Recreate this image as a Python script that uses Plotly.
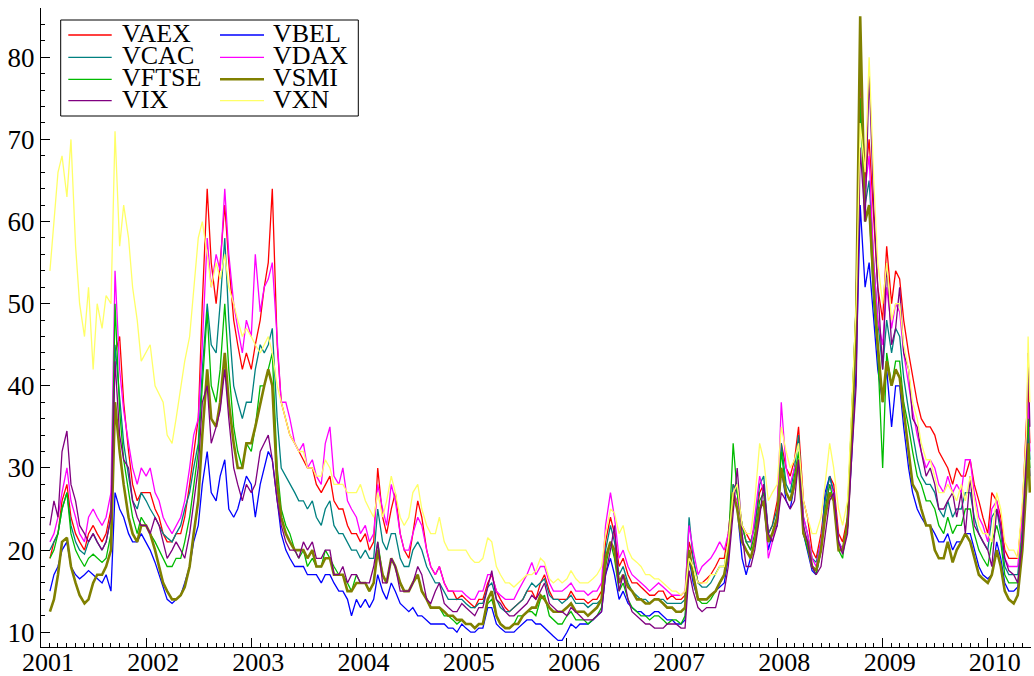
import pandas as pd
import plotly.graph_objects as go

# ---------------- data (semi-monthly readings, Feb 2001 - May 2010) ----------------
_months = pd.date_range("2001-02-01", "2010-05-01", freq="MS")
DATES = []
for m in _months:
    DATES.append(m.strftime("%Y-%m-%d"))
    DATES.append((m + pd.Timedelta(days=14)).strftime("%Y-%m-%d"))
DATES += ["2010-05-21", "2010-05-27"]

VAEX = [
    19, 21, 22, 26, 28, 24, 22, 21, 20, 22, 23, 22, 21, 22, 25, 44, 46, 38, 32, 28, 26, 27,
    27, 27, 25, 24, 22, 21, 21, 22, 22, 24, 28, 32, 36, 50, 64, 55, 50, 55, 62, 55, 48, 45, 42, 44,
    42, 45, 48, 52, 55, 64, 45, 38, 36, 34, 33, 32, 31, 30, 30, 28, 27, 28, 29, 26, 25, 25, 23, 22,
    22, 21, 22, 20, 21, 30, 24, 22, 25, 27, 22, 20, 19, 22, 26, 24, 20, 18, 17, 18, 16, 15, 15, 14,
    14.5, 14, 13.5, 13, 14, 14, 16, 17, 15, 14, 13, 12.5, 13, 13.5, 14, 15, 15, 14, 16, 17, 15, 14, 14, 14,
    14, 15, 14, 14, 14, 13.5, 14, 14, 15, 21, 24, 22, 18, 19, 17, 16, 16, 15.5, 15, 14.5, 14.5, 15, 15, 14,
    14.5, 14, 14, 14.5, 21, 19, 16, 16, 16.5, 17, 18, 19, 19, 22, 28, 27, 23, 22, 21, 23, 27, 28, 22, 23,
    26, 33, 30, 29, 31, 35, 26, 24, 20, 19, 22, 26, 29, 28, 22, 21, 24, 35, 50, 78, 65, 70, 60, 52,
    48, 57, 50, 54, 53, 48, 44, 41, 38, 36, 35, 35, 34, 32, 31, 30, 28, 30, 29, 29, 31, 28, 26, 24,
    22, 27, 26, 24, 20, 19, 19, 19, 25, 35, 40, 33,
]
VBEL = [
    15, 17, 18, 20, 21, 18, 17, 16.5, 17, 17.5, 17, 16.5, 16, 17, 15, 27, 25, 24, 22, 21, 21, 22,
    21, 20, 18.5, 17, 15.5, 14, 13.5, 14, 14.5, 16, 18, 21, 23, 28, 32, 27, 26, 29, 31, 25, 24, 25, 27, 29,
    28, 24, 28, 30, 32, 31, 26, 22, 20, 19, 18, 18, 18, 17, 17, 17, 16, 17, 17, 16, 15, 15, 14, 12,
    14, 13, 14, 13, 14, 17, 15, 14, 16, 15, 13.5, 13, 12.5, 13, 12, 12, 11.5, 11, 11, 11, 11, 10.5, 10.5, 10,
    11, 10.5, 10, 10, 10.5, 10.5, 13, 13, 11, 10.5, 10, 10, 10, 10.5, 11, 11.5, 11.5, 11, 11, 10.5, 10, 9.5, 9, 9,
    10, 11, 10.5, 11, 11, 11, 11.5, 12, 12.5, 17, 19, 17, 14, 15, 13.5, 13, 12.5, 12.5, 12, 12, 12.5, 12.5, 12, 11.5,
    11.5, 11, 11, 11.5, 19, 16, 14, 14, 14, 14.5, 15, 15.5, 16, 19, 27, 25, 19, 17, 19, 21, 25, 26, 20, 22,
    23, 30, 26, 25, 28, 31, 22, 20, 17.5, 17, 20, 27, 29, 27, 21, 20, 23, 31, 42, 62, 52, 55, 48, 42,
    38, 42, 35, 40, 40, 35, 30, 27, 25, 24, 23, 23, 22, 21, 21, 22, 20, 21, 21, 22, 22, 20, 18, 17,
    16.5, 17, 21, 19, 16, 15, 15, 15.5, 21, 30, 34, 29,
]
VCAC = [
    20, 21, 22, 25, 27, 23, 21, 20, 19.5, 21, 22, 21, 20, 21, 24, 45, 38, 33, 29, 26, 25, 27,
    26, 25, 24, 23, 22, 21.5, 21, 22, 23, 25, 27, 30, 33, 42, 50, 45, 44, 50, 58, 48, 40, 38, 36, 38,
    38, 42, 45, 44, 45, 47, 36, 30, 29, 28, 27, 26, 26, 25, 26, 24, 23, 25, 26, 23, 22, 22, 21, 20,
    20, 19, 20, 19, 19, 25, 21, 20, 22, 22, 19, 18, 18, 20, 21, 20, 18, 17, 16, 16, 15, 14, 14, 14,
    14, 13.5, 13, 13, 13.5, 13.5, 15.5, 16, 14, 13, 12.5, 12.5, 13, 13.5, 14, 15, 16, 15.5, 16, 16.5, 14.5, 14, 14, 13.5,
    14, 14.5, 13.5, 13.5, 13.5, 13, 13.5, 13.5, 14, 20, 23, 21, 17, 18, 16, 15, 14.5, 14, 14, 13.5, 14, 14, 14, 13.5,
    13.5, 13.5, 13.5, 14, 24, 19, 16, 15.5, 15.5, 16, 17, 18, 18, 21, 28, 27, 23, 21, 21, 23, 28, 29, 22, 23,
    25, 33, 28, 27, 30, 34, 24, 22, 19, 18.5, 21, 26, 29, 27, 21, 20, 23, 33, 47, 75, 62, 65, 55, 48,
    42, 48, 44, 47, 46, 41, 37, 34, 31, 29, 28, 28, 27, 25, 24, 26, 24, 25, 25, 27, 27, 24, 22, 21,
    20, 24, 25, 22, 18, 17, 17, 17, 23, 32, 37, 31,
]
VDAX = [
    21, 22, 24, 27, 30, 26, 24, 22, 21, 24, 25, 24, 23, 24, 27, 54, 42, 37, 33, 30, 28, 30,
    29, 30, 27, 26, 24, 23, 22, 23, 24, 26, 30, 34, 36, 45, 58, 52, 56, 54, 64, 56, 50, 47, 44, 48,
    46, 56, 49, 52, 53, 55, 45, 38, 38, 36, 33, 32, 33, 30, 31, 29, 28, 33, 35, 29, 28, 30, 26, 25,
    24, 22, 23, 21, 22, 28, 25, 23, 28, 26, 22, 20, 20, 22, 24, 23, 20, 18, 17, 18, 16, 15, 15, 15,
    15, 14.5, 14, 14, 15, 15, 17, 17, 15, 14.5, 14, 14, 14, 15, 16, 17, 18.5, 17, 18, 18, 16, 15, 15, 15,
    15.5, 16, 15, 15, 15, 14.5, 15, 15, 16, 23, 27, 24, 19, 20, 18, 17, 16.5, 16, 15.5, 15, 15.5, 16, 15.5, 15,
    14.5, 14.5, 14.5, 15, 23, 20, 17, 18, 18.5, 19, 20, 21, 20, 22, 27, 26, 23, 21, 20, 24, 29, 27, 19, 21,
    24, 38, 30, 28, 30, 31, 24, 22, 19, 18, 21, 25, 28, 27, 21, 20, 23, 33, 48, 80, 64, 68, 55, 48,
    45, 52, 47, 50, 49, 44, 40, 37, 34, 32, 30, 31, 30, 28, 27, 29, 27, 28, 27, 31, 31, 27, 24, 23,
    21, 25, 26, 23, 19, 18, 18, 18, 24, 33, 38, 32,
]
VFTSE = [
    19, 20, 22, 25, 27, 22, 20, 19, 18, 19, 19.5, 19, 18.5, 19, 22, 50, 37, 31, 27, 24, 22, 24,
    23, 22, 21, 20, 19, 18, 18, 19, 19, 21, 24, 28, 32, 40, 49, 40, 38, 42, 50, 42, 35, 32, 30, 33,
    32, 35, 40, 40, 42, 44, 30, 25, 23, 22, 20, 19, 20, 18, 19, 18, 18, 20, 19, 18, 17, 17, 16, 15,
    17, 16, 16, 15, 16, 21, 17, 16, 19, 18, 16, 15, 15, 16, 17, 15, 14, 13, 13, 13, 12, 12, 11.5, 11,
    11.5, 11, 11, 10.5, 11, 11, 13.5, 14, 12, 11, 10.5, 10.5, 11, 12, 12, 12.5, 12.5, 12, 14, 14.5, 12, 11.5, 11, 11,
    12, 12.5, 11.5, 11.5, 11.5, 11, 11.5, 12, 13, 18, 21, 19, 15, 16, 14, 13, 12.5, 12, 12, 11.5, 12, 12, 11.5, 11,
    11.5, 11.5, 11, 12, 20, 17, 14, 13.5, 13.5, 14, 15, 16, 17, 20, 33, 27, 23, 21, 20, 22, 26, 27, 21, 22,
    24, 32, 27, 26, 29, 32, 22, 20, 18, 17, 20, 25, 28, 26, 20, 19, 24, 36, 50, 75, 60, 62, 50, 44,
    30, 44, 40, 43, 43, 38, 35, 32, 29, 28, 26, 26, 25, 23, 22, 24, 22, 23, 23, 25, 25, 22, 20, 19,
    18, 21, 23, 21, 17, 16, 16, 16, 22, 32, 36, 30,
]
VSMI = [
    12.5, 14, 17, 21, 21.5, 18, 16, 14.5, 13.5, 14, 16, 17, 17, 18, 20, 38, 32, 28, 24, 22, 21, 23,
    23, 22, 20, 18, 16, 15, 14, 14, 14.5, 15.5, 18, 22, 26, 34, 42, 36, 35, 38, 44, 38, 33, 30, 30, 33,
    33, 35, 38, 40, 42, 40, 28, 24, 22, 21, 20, 20, 20, 19, 20, 18, 18, 19, 19, 17, 17, 17, 15, 15,
    16, 16, 16, 15, 16, 20, 17, 16, 19, 18, 16, 15, 15, 16, 17, 15, 14, 13, 13, 13, 12.5, 12, 12, 11.5,
    11.5, 11, 11, 10.5, 11, 11, 14, 15, 12, 11, 10.5, 10.5, 11, 11, 12, 12.5, 13, 13, 14.5, 14, 13, 12.5, 12.5, 12.5,
    13, 13.5, 12.5, 12.5, 12.5, 12, 12.5, 13, 14, 19, 21, 20, 16, 17, 15.5, 15, 14, 14, 13.5, 13.5, 14, 14, 13.5, 13,
    13, 12.5, 12.5, 13, 20, 17, 14, 14, 14, 14.5, 15, 16, 17, 20, 27, 25, 21, 20, 19, 21, 25, 26, 21, 22,
    24, 30, 27, 26, 28, 31, 22, 21, 18, 17.5, 20, 24, 27, 26, 20, 20, 23, 34, 48, 85, 60, 62, 52, 45,
    38, 43, 40, 42, 41, 37, 32, 28, 27, 25, 23, 23, 20, 19, 19, 21, 18.5, 20, 21, 22, 21, 19, 17, 16.5,
    16, 17, 20, 18, 15, 14, 13.5, 14.5, 20, 28, 33, 27,
]
VIX = [
    23, 26, 24, 32, 34.5, 28, 26, 23, 22, 21, 22, 21, 20, 21, 24, 43, 34, 31, 30, 26, 24, 23,
    23, 22, 24, 23, 21, 19, 20, 21, 20, 19, 22, 26, 30, 38, 40, 33, 35, 37, 42, 36, 30, 28, 26, 28,
    27, 28, 32, 33, 34, 31, 26, 23, 21, 20, 20, 19, 21, 20, 21, 19, 19, 20, 20, 17, 17, 18, 16, 17,
    17, 16, 16, 16, 18, 21, 16, 16, 19, 18, 15, 15, 15, 16, 18, 17, 14, 13.5, 15, 16, 13.5, 13, 12.5, 12.5,
    13.5, 13, 12.5, 12, 13, 13, 15.5, 17.5, 14, 13.5, 12.5, 12, 12, 12.5, 13, 13.5, 14.5, 14, 15, 16, 13.5, 13, 12.5, 12.5,
    12, 13, 12.5, 12, 11.5, 11.5, 11.5, 12, 12.5, 17, 20, 23, 15, 17, 14, 12.5, 12, 11.5, 11, 11, 10.5, 10.5, 10.5, 11,
    11, 11, 10.5, 10.5, 17.5, 15, 13, 12.5, 13, 13, 13, 15, 15, 18, 25, 30, 22, 18, 18, 20, 24, 28, 22, 21,
    23, 27, 26, 25, 26, 31, 23, 21, 18, 17, 18, 22, 26, 27, 21, 19.5, 22, 31, 40, 69, 60, 78, 62, 52,
    42, 55, 45, 47, 52, 44, 42, 36, 35, 32, 29, 30, 28, 25, 25, 26, 27, 24, 27, 22, 29, 23, 22, 21,
    20, 18, 25, 23, 19, 17.5, 17, 16, 21, 31, 44, 35,
]
VXN = [
    54, 60, 66, 68, 63, 70, 57, 50, 46, 52, 42, 50, 47, 51, 50, 71, 57, 62, 58, 52, 48, 43,
    44, 45, 40, 39, 38, 34, 33, 36, 40, 43, 46, 52, 58, 60, 56, 52, 55, 53, 56, 52, 50, 48, 46, 47,
    46, 45, 44, 45, 46, 44, 40, 38, 36, 34, 33, 32, 32, 30, 30, 29, 29, 31, 30, 28, 28, 28, 27, 27,
    27, 28, 26, 25, 24, 27, 24, 26, 29, 27, 24, 23, 24, 27, 28, 25, 23, 22, 22, 24, 21, 20, 20, 20,
    20, 20, 19, 18.5, 18.5, 19, 21.5, 21, 18, 17, 16, 16, 15.5, 16, 16.5, 17, 17, 17.5, 19, 18.5, 16.5, 16, 16.5, 16,
    16.5, 17.5, 16.5, 16, 16, 16, 16.5, 17, 18, 22, 25, 24.5, 22, 23, 20, 19, 18.5, 18, 17, 17, 16.5, 16.5, 16, 15.5,
    15, 15, 14.5, 15, 19, 18, 16, 16, 16, 17, 17, 18, 18, 21, 27, 28, 23, 22, 22, 26, 33, 31, 26, 27,
    28, 35, 32, 30, 31, 33, 26, 24, 22, 22, 24, 28, 33, 30, 25, 23, 26, 37, 50, 72, 66, 80, 65, 55,
    50, 55, 48, 50, 50, 45, 42, 38, 36, 33, 31, 31, 29, 27, 27, 28, 27, 26, 28, 26, 29, 26, 23, 22,
    22, 21, 27, 25, 21, 20, 20, 19, 26, 34, 46, 38,
]

NAMES = ["VAEX", "VBEL", "VCAC", "VDAX", "VFTSE", "VSMI", "VIX", "VXN"]
VALUES = [VAEX, VBEL, VCAC, VDAX, VFTSE, VSMI, VIX, VXN]
COLORS = ["#FF0000", "#0000FF", "#008080", "#FF00FF", "#00BB00", "#808000", "#800080", "#FFFF66"]
WIDTHS = [1.3, 1.3, 1.3, 1.3, 1.3, 2.6, 1.3, 1.3]

for v in VALUES:
    assert len(v) == len(DATES), (len(v), len(DATES))

# ---------------- figure ----------------
W, H = 1034, 676
ML, MR, MT, MB = 41, 3, 8, 29
PW, PH = W - ML - MR, H - MT - MB
FONT = "Liberation Serif"

fig = go.Figure()
for name, vals, col, wd in zip(NAMES, VALUES, COLORS, WIDTHS):
    fig.add_trace(go.Scatter(x=DATES, y=vals, mode="lines", name=name,
                             line=dict(color=col, width=wd), showlegend=False))

def px_x(p):
    return (p - ML) / PW

def px_y(p):
    return 1 - (p - MT) / PH

shapes = [dict(type="rect", xref="paper", yref="paper",
               x0=px_x(60.7), x1=px_x(358.3), y0=px_y(116), y1=px_y(20),
               line=dict(color="black", width=1), fillcolor="white", layer="above")]
annotations = []
col_line = [(68.3, 111.7), (220, 264)]
col_text = [121.7, 273.3]
row_y = [35, 57.3, 79.3, 100.7]
for k, (name, col, wd) in enumerate(zip(NAMES, COLORS, WIDTHS)):
    r, c = divmod(k, 2)
    shapes.append(dict(type="line", xref="paper", yref="paper",
                       x0=px_x(col_line[c][0]), x1=px_x(col_line[c][1]),
                       y0=px_y(row_y[r]), y1=px_y(row_y[r]),
                       line=dict(color=col, width=wd), layer="above"))
    annotations.append(dict(xref="paper", yref="paper", x=px_x(col_text[c] - 2), y=px_y(row_y[r] - 1.5),
                            xanchor="left", yanchor="middle", showarrow=False, text=name,
                            font=dict(family=FONT, size=26, color="black")))

fig.update_layout(
    width=W, height=H,
    margin=dict(l=ML, r=MR, t=MT, b=MB),
    paper_bgcolor="white", plot_bgcolor="white",
    shapes=shapes, annotations=annotations,
    xaxis=dict(type="date", range=["2001-01-01", "2010-05-31"],
               tick0="2001-01-01", dtick="M12", tickformat="%Y",
               ticks="inside", ticklen=9, tickcolor="black", tickwidth=1,
               showline=True, linecolor="black", linewidth=1, mirror=False,
               showgrid=False, zeroline=False, automargin=False,
               ticklabelshift=7, ticklabelstandoff=-8,
               tickfont=dict(family=FONT, size=26, color="black"),
               minor=dict(dtick="M1", tick0="2001-01-01", ticks="inside", ticklen=4,
                          tickcolor="black", tickwidth=1, showgrid=False)),
    yaxis=dict(range=[8.2, 86], tick0=0, dtick=10,
               ticks="inside", ticklen=9, tickcolor="black", tickwidth=1,
               showline=True, linecolor="black", linewidth=1,
               showgrid=False, zeroline=False, automargin=False,
               tickfont=dict(family=FONT, size=27, color="black"),
               minor=dict(dtick=2, ticks="inside", ticklen=4, tickcolor="black",
                          tickwidth=1, showgrid=False)),
)

fig.write_html("out.html", config={"displayModeBar": False},
               post_script="document.body.style.margin='0';document.body.style.overflow='hidden';")
